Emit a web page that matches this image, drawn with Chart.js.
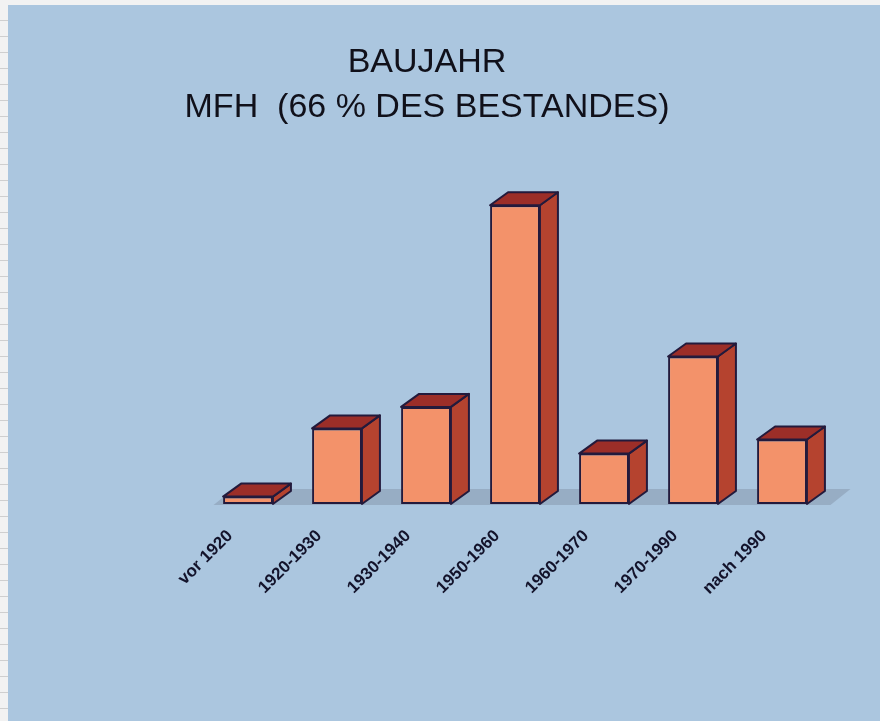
<!DOCTYPE html>
<html><head><meta charset="utf-8">
<script src="https://cdn.jsdelivr.net/npm/chart.js@4.4.1/dist/chart.umd.min.js"></script>
<style>html,body{margin:0;padding:0;background:#f3f3f3;}canvas{display:block;}</style>
</head><body>
<canvas id="c" width="880" height="721"></canvas>
<script>
const categories = ['vor 1920', '1920-1930', '1930-1940', '1950-1960', '1960-1970', '1970-1990', 'nach 1990'];
const shares = [1.0, 10.2, 13.1, 40.3, 6.8, 19.9, 8.7];
const titleLines = ['BAUJAHR', 'MFH  (66 % DES BESTANDES)'];

const FRONT = '#f3926a', SIDE = '#b5432f', TOP = '#9c2e28', EDGE = '#231a3c';
const DX = 18, DY = 13;

const bgPlugin = {
  id: 'bg',
  beforeDraw(chart) {
    const ctx = chart.ctx;
    ctx.save();
    ctx.fillStyle = '#f2f2f2';
    ctx.fillRect(0, 0, chart.width, chart.height);
    ctx.strokeStyle = '#cfcfcf';
    ctx.lineWidth = 1;
    for (let y = 20; y < chart.height; y += 16) {
      ctx.beginPath(); ctx.moveTo(0, y + 0.5); ctx.lineTo(8, y + 0.5); ctx.stroke();
    }
    ctx.fillStyle = '#abc6df';
    ctx.fillRect(8, 5, chart.width - 8, chart.height - 5);
    ctx.restore();
  }
};

const boxPlugin = {
  id: 'box3d',
  beforeDatasetsDraw(chart) {
    const ctx = chart.ctx, a = chart.chartArea;
    const base = chart.scales.y.getPixelForValue(0);
    ctx.save();
    ctx.fillStyle = 'rgba(115,125,145,0.35)';
    ctx.beginPath();
    ctx.moveTo(a.left + 10, base + 1);
    ctx.lineTo(a.right + 4, base + 1);
    ctx.lineTo(a.right + 24, base - 15);
    ctx.lineTo(a.left + 30, base - 15);
    ctx.closePath();
    ctx.fill();
    ctx.restore();
  },
  afterDatasetsDraw(chart) {
    const ctx = chart.ctx;
    const meta = chart.getDatasetMeta(0);
    ctx.save();
    ctx.lineJoin = 'round';
    ctx.lineWidth = 2;
    ctx.strokeStyle = EDGE;
    meta.data.forEach(bar => {
      const {x, y, base, width} = bar.getProps(['x', 'y', 'base', 'width'], true);
      const l = x - width / 2, r = x + width / 2;
      ctx.beginPath();
      ctx.moveTo(r, y); ctx.lineTo(r + DX, y - DY); ctx.lineTo(r + DX, base - DY); ctx.lineTo(r, base);
      ctx.closePath();
      ctx.fillStyle = SIDE; ctx.fill(); ctx.stroke();
      ctx.beginPath();
      ctx.moveTo(l, y); ctx.lineTo(l + DX, y - DY); ctx.lineTo(r + DX, y - DY); ctx.lineTo(r, y);
      ctx.closePath();
      ctx.fillStyle = TOP; ctx.fill(); ctx.stroke();
    });
    ctx.restore();
  }
};

new Chart(document.getElementById('c'), {
  type: 'bar',
  data: {
    labels: categories,
    datasets: [{
      data: shares,
      backgroundColor: FRONT,
      borderColor: EDGE,
      borderWidth: 2,
      borderSkipped: false,
      categoryPercentage: 1,
      barPercentage: 0.56
    }]
  },
  options: {
    responsive: false,
    animation: false,
    devicePixelRatio: 1,
    layout: { padding: { left: 27.5, right: 53.5, top: 0, bottom: 0 } },
    plugins: {
      legend: { display: false },
      tooltip: { enabled: false },
      title: {
        display: true,
        text: titleLines,
        color: '#10101a',
        font: { family: '"Liberation Sans", Arial, sans-serif', size: 34, weight: 'normal', lineHeight: 45 / 34 },
        padding: { top: 40, bottom: 40.4 }
      }
    },
    scales: {
      x: {
        grid: { display: false },
        border: { display: false },
        ticks: {
          minRotation: 45, maxRotation: 45,
          padding: 14,
          labelOffset: -18,
          color: '#13132b',
          font: { family: '"Liberation Sans", Arial, sans-serif', size: 17, weight: 'bold' }
        },
        afterFit(scale) { scale.height = 217; }
      },
      y: {
        min: 0, max: 45,
        grid: { display: false },
        border: { display: false },
        ticks: { display: false },
        afterFit(scale) { scale.width = 176; }
      }
    }
  },
  plugins: [bgPlugin, boxPlugin]
});
</script>
</body></html>
